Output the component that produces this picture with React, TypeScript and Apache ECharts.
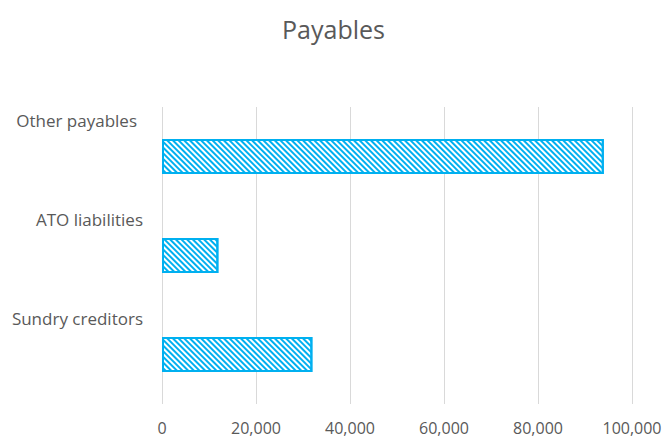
import React, { useEffect, useRef } from "react";
import * as echarts from "echarts";

const categories = ["Sundry creditors", "ATO liabilities", "Other payables"];
const values = [32000, 12000, 94000];
const xTicks = { min: 0, max: 100000, interval: 20000 };
const titleText = "Payables";

const TEXT = "#595959";
const BLUE = "#00B0F0";
const FONT = "'Open Sans', 'Noto Sans', sans-serif";

export default function App() {
  const ref = useRef<HTMLDivElement>(null);
  useEffect(() => {
    if (!ref.current) return;
    const chart = echarts.init(ref.current, null, { renderer: "svg" });
    chart.setOption({
      animation: false,
      backgroundColor: "#ffffff",
      title: {
        text: titleText,
        left: "center",
        top: 11,
        textStyle: { color: TEXT, fontFamily: FONT, fontSize: 25, fontWeight: "normal" },
      },
      grid: { left: 162, right: 35, top: 107, bottom: 35, containLabel: false },
      xAxis: {
        type: "value",
        min: xTicks.min,
        max: xTicks.max,
        interval: xTicks.interval,
        axisLine: { show: false },
        axisTick: { show: false },
        splitLine: { show: true, lineStyle: { color: "#D9D9D9", width: 1 } },
        axisLabel: {
          color: TEXT,
          fontFamily: FONT,
          fontSize: 16,
          lineHeight: 16,
          margin: 16,
          formatter: (v: number) => v.toLocaleString("en-US"),
        },
      },
      yAxis: {
        type: "category",
        data: categories,
        axisLine: { show: false },
        axisTick: { show: false },
        splitLine: { show: false },
        axisLabel: {
          color: TEXT,
          fontFamily: FONT,
          fontSize: 17,
          lineHeight: 20,
          margin: 19,
          padding: [0, 0, 72, 0],
          formatter: (v: string) => (v === "Other payables" ? `{o|${v}}` : v),
          rich: {
            o: { color: TEXT, fontFamily: FONT, fontSize: 17, lineHeight: 20, padding: [0, 6, 0, 0] },
          },
        },
      },
      series: [
        {
          type: "bar",
          data: values,
          barWidth: 35,
          itemStyle: {
            color: "#ffffff",
            borderColor: BLUE,
            borderWidth: 2,
            decal: {
              symbol: "rect",
              symbolSize: 1,
              color: BLUE,
              dashArrayX: [1, 0],
              dashArrayY: [1.2, 1.8],
              rotation: Math.PI / 4,
            },
          },
        },
      ],
    });
    return () => chart.dispose();
  }, []);
  return (
    <div
      ref={ref}
      style={{ position: "fixed", left: 0, top: 0, width: 667, height: 439 }}
    />
  );
}
